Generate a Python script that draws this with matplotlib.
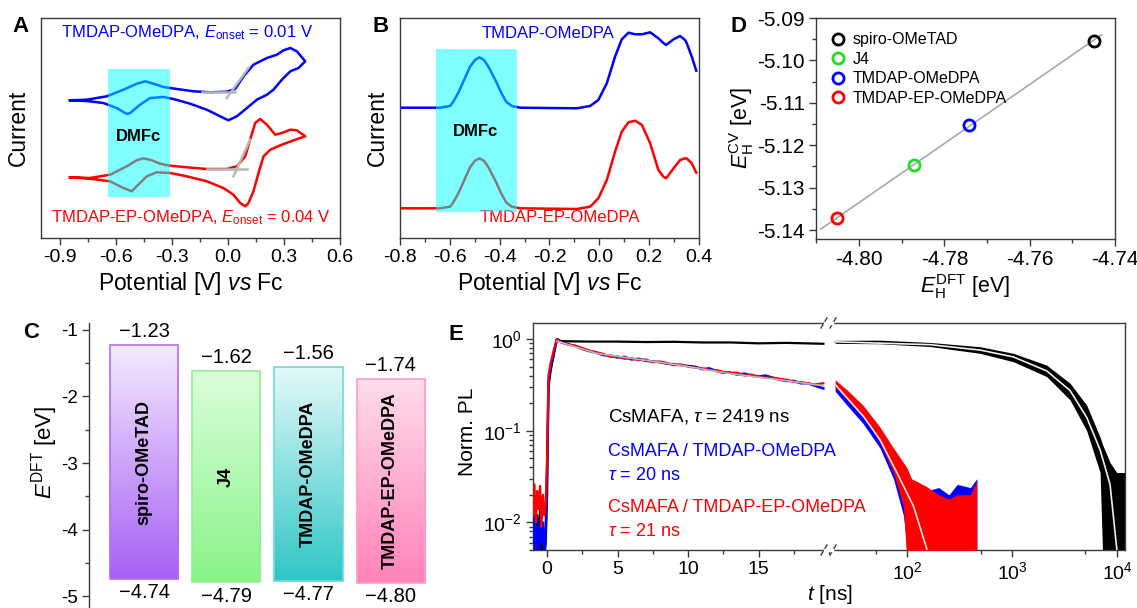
import numpy as np
import matplotlib
matplotlib.use("Agg")
import matplotlib.pyplot as plt
from matplotlib.patches import Rectangle
from matplotlib.lines import Line2D
from matplotlib.colors import LinearSegmentedColormap
from matplotlib.ticker import AutoMinorLocator, MultipleLocator, FixedLocator, NullFormatter

plt.rcParams['font.family'] = ['Liberation Sans', 'DejaVu Sans']
plt.rcParams['mathtext.fontset'] = 'custom'
plt.rcParams['mathtext.rm'] = 'Liberation Sans'
plt.rcParams['mathtext.it'] = 'Liberation Sans:italic'
plt.rcParams['mathtext.bf'] = 'Liberation Sans:bold'
plt.rcParams['axes.unicode_minus'] = False
plt.rcParams['xtick.direction'] = 'out'
plt.rcParams['ytick.direction'] = 'out'

W, H = 1137, 608

# ---------------- A: cyclic voltammetry (arbitrary current) ----------------
cv_blue_v = [-0.845, -0.755, -0.648, -0.559, -0.487, -0.443, -0.398, -0.345, -0.273, -0.184,
             -0.095, -0.006, 0.039, 0.084, 0.137, 0.209, 0.262, 0.298, 0.334, 0.369, 0.414,
             0.378, 0.334, 0.289, 0.244, 0.209, 0.155, 0.102, 0.048, 0.003, -0.041, -0.113,
             -0.202, -0.291, -0.345, -0.416, -0.470, -0.523, -0.541, -0.595, -0.666, -0.755, -0.845]
cv_blue_i = [137.7, 138.3, 141.7, 148.3, 154.3, 156.7, 154.3, 151.0, 149.0, 146.7,
             145.7, 146.3, 149.0, 161.7, 173.3, 180.0, 183.3, 187.7, 190.0, 186.7, 176.7,
             170.0, 166.7, 158.3, 148.3, 143.3, 138.3, 130.0, 121.7, 117.7, 121.7, 128.3,
             134.3, 139.0, 141.0, 140.0, 133.3, 125.0, 124.0, 130.0, 135.0, 137.0, 137.7]
cv_red_v = [-0.845, -0.738, -0.630, -0.541, -0.488, -0.452, -0.407, -0.363, -0.309, -0.220,
            -0.113, -0.006, 0.048, 0.093, 0.119, 0.146, 0.173, 0.209, 0.253, 0.289, 0.334,
            0.369, 0.414, 0.352, 0.280, 0.227, 0.191, 0.164, 0.137, 0.110, 0.093, 0.066,
            0.030, -0.024, -0.113, -0.220, -0.309, -0.381, -0.434, -0.488, -0.514, -0.559,
            -0.630, -0.738, -0.845]
cv_red_i = [60.7, 60.0, 63.3, 71.7, 77.7, 79.7, 77.7, 74.3, 72.3, 70.7,
            69.0, 69.0, 71.7, 81.7, 98.3, 115.0, 119.0, 113.3, 103.3, 105.0, 108.3,
            107.7, 101.7, 97.7, 92.7, 88.3, 81.7, 65.0, 46.7, 35.0, 31.7, 35.0,
            43.3, 50.0, 56.7, 61.7, 65.0, 65.7, 61.7, 51.7, 46.7, 50.0,
            56.7, 59.3, 60.7]
onset_blue_base = ([-0.14, 0.039], [145.7, 145.7])
onset_blue_tan = ([-0.006, 0.11], [140.0, 170.0])
onset_red_base = ([-0.113, 0.101], [69.0, 69.0])
onset_red_tan = ([0.030, 0.119], [61.7, 98.3])
dmfc_cv = (-0.639, -0.309, 40.7, 169.0)

# ---------------- B: differential pulse voltammetry ----------------
dpv_v = [-0.80, -0.639, -0.599, -0.586, -0.566, -0.546, -0.519, -0.499, -0.481, -0.463,
         -0.445, -0.414, -0.394, -0.374, -0.351, -0.318, -0.090, -0.037, -0.004, 0.030,
         0.063, 0.090, 0.117, 0.144, 0.171, 0.204, 0.237, 0.257, 0.268, 0.298, 0.324,
         0.344, 0.351, 0.371, 0.389]
dpv_blue = [130.3, 130.3, 132.0, 136.3, 145.3, 156.3, 171.3, 178.0, 180.7, 178.0,
            171.3, 156.3, 145.3, 136.3, 132.0, 130.3, 129.7, 132.0, 138.0, 154.7,
            181.3, 198.7, 205.3, 203.7, 203.7, 205.7, 199.7, 195.0, 193.0, 198.7, 202.0,
            198.0, 194.7, 181.3, 167.3]
dpv_red = [29.7, 29.7, 31.3, 35.7, 44.7, 55.7, 70.7, 77.3, 79.7, 77.3,
           70.7, 55.7, 44.7, 35.7, 31.3, 29.7, 29.0, 31.3, 39.7, 58.0,
           86.3, 106.3, 115.7, 117.3, 113.0, 94.7, 68.0, 61.3, 59.7, 69.7, 78.0,
           79.7, 79.5, 74.7, 65.3]
dmfc_dpv = (-0.657, -0.331, 26.3, 188.7)

# ---------------- C: DFT frontier orbital energies ----------------
htm_names = ['spiro-OMeTAD', 'J4', 'TMDAP-OMeDPA', 'TMDAP-EP-OMeDPA']
lumo = [-1.23, -1.62, -1.56, -1.74]
homo = [-4.74, -4.79, -4.77, -4.80]
lumo_txt = ['\u22121.23', '\u22121.62', '\u22121.56', '\u22121.74']
homo_txt = ['\u22124.74', '\u22124.79', '\u22124.77', '\u22124.80']
bar_dark = ['#a65ff5', '#88f488', '#2ec6c6', '#ff82bb']
bar_light = ['#f4eafd', '#dbfddb', '#e4f8f8', '#ffdcea']
bar_edge = ['#b070f0', '#94ee94', '#70dada', '#ff9cc8']

# ---------------- D: E_H(CV) vs E_H(DFT) ----------------
d_names = ['spiro-OMeTAD', 'J4', 'TMDAP-OMeDPA', 'TMDAP-EP-OMeDPA']
d_dft = [-4.745, -4.7872, -4.7743, -4.8051]
d_cv = [-5.0954, -5.1247, -5.1152, -5.1372]
d_colors = ['black', '#22dd22', '#0000ff', '#ff0000']

# ---------------- E: TRPL ----------------
# early linear part (ns)
t_pre = [-1.0, -0.9, -0.8, -0.7, -0.6, -0.5, -0.4, -0.3, -0.2, -0.1, 0.0, 0.1, 0.25, 0.5, 0.7]
pre_black = [0.005, 0.010, 0.004, 0.012, 0.006, 0.014, 0.004, 0.009, 0.004, 0.006, 0.02, 0.30, 0.45, 0.70, 1.0]
pre_blue = [0.006, 0.012, 0.005, 0.009, 0.004, 0.011, 0.006, 0.010, 0.004, 0.008, 0.04, 0.35, 0.50, 0.75, 1.0]
pre_red = [0.012, 0.026, 0.010, 0.022, 0.014, 0.025, 0.009, 0.020, 0.012, 0.016, 0.05, 0.40, 0.55, 0.78, 1.0]

t_lin = [1.0, 1.5, 2.0, 2.5, 3.0, 3.5, 4.0, 4.5, 5.0, 5.5, 6.0, 6.5, 7.0, 7.5, 8.0, 8.5, 9.0, 9.5,
         10.0, 10.5, 11.0, 11.5, 12.0, 12.5, 13.0, 13.5, 14.0, 14.5, 15.0, 15.5, 16.0, 16.5, 17.0,
         17.5, 18.0, 18.5, 19.0, 19.6]
lin_blue = [0.93, 0.88, 0.84, 0.78, 0.74, 0.71, 0.67, 0.66, 0.63, 0.64, 0.60, 0.61, 0.58, 0.57, 0.56,
            0.54, 0.53, 0.52, 0.51, 0.50, 0.47, 0.48, 0.45, 0.43, 0.43, 0.41, 0.42, 0.40, 0.39, 0.40,
            0.38, 0.36, 0.35, 0.35, 0.33, 0.33, 0.31, 0.29]
lin_red = [0.92, 0.87, 0.85, 0.80, 0.75, 0.72, 0.69, 0.64, 0.65, 0.61, 0.62, 0.59, 0.60, 0.56, 0.57,
           0.55, 0.52, 0.53, 0.50, 0.49, 0.48, 0.46, 0.46, 0.44, 0.43, 0.43, 0.40, 0.41, 0.39, 0.38,
           0.38, 0.37, 0.36, 0.34, 0.34, 0.33, 0.32, 0.33]
t_black_lin = [1.0, 3.0, 5.0, 7.0, 9.0, 11.0, 13.0, 15.0, 17.0, 19.6]
lin_black = [0.95, 0.94, 0.94, 0.93, 0.935, 0.92, 0.92, 0.90, 0.91, 0.89]
t_fit_lin = [0.7, 3.5, 9.4, 13.0, 16.5, 19.6]
fit_lin = [0.95, 0.70, 0.52, 0.42, 0.36, 0.31]

# late log part (ns)
t_blk = [20.6, 55, 166, 496, 1028, 2137, 3565, 5140, 6890, 7300, 8570, 9930, 11900]
blk_mid = [0.935, 0.93, 0.86, 0.76, 0.64, 0.46, 0.279, 0.143, 0.062, 0.05, 0.025, 0.0078, 0.006]
blk_hi = [0.97, 0.975, 0.92, 0.826, 0.70, 0.52, 0.33, 0.190, 0.085, 0.07, 0.045, 0.035, 0.035]
blk_lo = [0.90, 0.89, 0.83, 0.70, 0.567, 0.39, 0.217, 0.100, 0.035, 0.004, 0.004, 0.004, 0.004]
t_rb = [20.6, 26.7, 38, 55, 74, 92, 99, 110, 150, 200, 250, 300, 400, 461]
blue_hi = [0.32, 0.235, 0.15, 0.085, 0.048, 0.032, 0.028, 0.025, 0.022, 0.024, 0.020, 0.026, 0.024, 0.030]
blue_lo = [0.27, 0.19, 0.12, 0.065, 0.030, 0.012, 0.006, 0.004, 0.004, 0.004, 0.004, 0.004, 0.004, 0.004]
red_hi = [0.36, 0.28, 0.19, 0.11, 0.065, 0.045, 0.040, 0.030, 0.025, 0.020, 0.018, 0.020, 0.020, 0.029]
red_lo = [0.30, 0.22, 0.145, 0.075, 0.035, 0.015, 0.004, 0.004, 0.004, 0.004, 0.004, 0.004, 0.004, 0.004]
t_fit_rb = [20.6, 38.4, 55, 79.8, 115, 154]
fit_rb = [0.32, 0.143, 0.080, 0.035, 0.015, 0.0051]
t_fit_blk = [20.6, 166, 496, 1028, 2137, 3565, 5140, 6890, 8570, 10000]
fit_blk = [0.935, 0.87, 0.76, 0.64, 0.45, 0.275, 0.14, 0.062, 0.026, 0.0048]


def fx(x):
    return x / W


def fy(y):
    return 1 - y / H


def rect(x0, y0, x1, y1):
    return [x0 / W, 1 - y1 / H, (x1 - x0) / W, (y1 - y0) / H]


def style_box(ax):
    for s in ax.spines.values():
        s.set_color('#3a3a3a')
        s.set_linewidth(1.0)
    ax.tick_params(which='major', length=5, width=1, color='#3a3a3a', labelsize=14, pad=3)
    ax.tick_params(which='minor', length=3, width=1, color='#3a3a3a')


fig = plt.figure(figsize=(W / 100, H / 100), dpi=100)

# ---- A ----
axA = fig.add_axes(rect(41, 18, 340, 238))
axA.plot(cv_blue_v, cv_blue_i, color='#0000ff', lw=1.8, zorder=2)
axA.plot(cv_red_v, cv_red_i, color='#ff0000', lw=1.8, zorder=2)
for xs, ys in [onset_blue_base, onset_blue_tan, onset_red_base, onset_red_tan]:
    axA.plot(xs, ys, color='#b8b8b8', lw=1.8, zorder=3)
axA.add_patch(Rectangle((dmfc_cv[0], dmfc_cv[2]), dmfc_cv[1] - dmfc_cv[0], dmfc_cv[3] - dmfc_cv[2],
                        facecolor='#00ffff', alpha=0.5, edgecolor='none', zorder=4))
axA.text(-0.479, 101.7, 'DMFc', fontsize=12, fontweight='bold', ha='center', va='center', zorder=5)
axA.text(-0.22, 205, r'TMDAP-OMeDPA, $E_{\rm onset}$ = 0.01 V', color='#0000ff', fontsize=12,
         ha='center', va='center')
axA.text(-0.20, 20, r'TMDAP-EP-OMeDPA, $E_{\rm onset}$ = 0.04 V', color='#ff0000', fontsize=12,
         ha='center', va='center')
axA.set_xlim(-1.0, 0.6)
axA.set_ylim(0, 220)
axA.set_xticks([-0.9, -0.6, -0.3, 0.0, 0.3, 0.6])
axA.set_xticklabels(['-0.9', '-0.6', '-0.3', '0.0', '0.3', '0.6'])
axA.xaxis.set_minor_locator(AutoMinorLocator(2))
axA.set_yticks([])
style_box(axA)
axA.set_xlabel(r'Potential [V] $vs$ Fc', fontsize=16.5, labelpad=3)
axA.set_ylabel('Current', fontsize=16.5, labelpad=8)

# ---- B ----
axB = fig.add_axes(rect(400, 18, 699, 238))
axB.plot(dpv_v, dpv_blue, color='#0000ff', lw=1.8, zorder=2)
axB.plot(dpv_v, dpv_red, color='#ff0000', lw=1.8, zorder=2)
axB.add_patch(Rectangle((dmfc_dpv[0], dmfc_dpv[2]), dmfc_dpv[1] - dmfc_dpv[0], dmfc_dpv[3] - dmfc_dpv[2],
                        facecolor='#00ffff', alpha=0.5, edgecolor='none', zorder=4))
axB.text(-0.495, 106.3, 'DMFc', fontsize=12, fontweight='bold', ha='center', va='center', zorder=5)
axB.text(-0.207, 204.7, 'TMDAP-OMeDPA', color='#0000ff', fontsize=12, ha='center', va='center')
axB.text(-0.157, 20, 'TMDAP-EP-OMeDPA', color='#ff0000', fontsize=12, ha='center', va='center')
axB.set_xlim(-0.8, 0.4)
axB.set_ylim(0, 220)
axB.set_xticks([-0.8, -0.6, -0.4, -0.2, 0.0, 0.2, 0.4])
axB.set_xticklabels(['-0.8', '-0.6', '-0.4', '-0.2', '0.0', '0.2', '0.4'])
axB.xaxis.set_minor_locator(AutoMinorLocator(2))
axB.set_yticks([])
style_box(axB)
axB.set_xlabel(r'Potential [V] $vs$ Fc', fontsize=16.5, labelpad=3)
axB.set_ylabel('Current', fontsize=16.5, labelpad=8)

# ---- C ----
axC = fig.add_axes(rect(89, 323, 440, 608))
grad = np.linspace(0, 1, 256).reshape(-1, 1)
bw = 0.83
for i in range(len(htm_names)):
    cmap = LinearSegmentedColormap.from_list('g%d' % i, [bar_dark[i], bar_light[i]])
    axC.imshow(grad, cmap=cmap, aspect='auto', origin='lower',
               extent=(i - bw / 2, i + bw / 2, homo[i], lumo[i]), zorder=1)
    axC.add_patch(Rectangle((i - bw / 2, homo[i]), bw, lumo[i] - homo[i], fill=False,
                            edgecolor=bar_edge[i], lw=1.2, zorder=2))
    axC.text(i, lumo[i] + 0.07, lumo_txt[i], ha='center', va='bottom', fontsize=14.5)
    axC.text(i, homo[i] - 0.07, homo_txt[i], ha='center', va='top', fontsize=14.5)
    axC.text(i, (lumo[i] + homo[i]) / 2, htm_names[i], rotation=90, ha='center', va='center',
             fontsize=13, fontweight='bold', zorder=3)
axC.set_xlim(-0.67, 3.6)
axC.set_ylim(-5.18, -0.895)
axC.set_yticks([-1, -2, -3, -4, -5])
axC.set_yticklabels(['-1', '-2', '-3', '-4', '-5'])
axC.yaxis.set_minor_locator(MultipleLocator(0.5))
axC.set_xticks([])
for s in ['top', 'right', 'bottom']:
    axC.spines[s].set_visible(False)
style_box(axC)
axC.tick_params(labelsize=13.5)
fig.text(fx(45), fy(452), r'$E^{\rm DFT}$ [eV]', rotation=90, fontsize=16, ha='center', va='center')

# ---- D ----
axD = fig.add_axes(rect(816, 18, 1115, 239))
k, b = np.polyfit(d_dft, d_cv, 1)
xf = np.array([-4.809, -4.7432])
axD.plot(xf, k * xf + b, color='#a8a8a8', lw=1.2, zorder=1)
for xv, yv, c, n in zip(d_dft, d_cv, d_colors, d_names):
    axD.plot([xv], [yv], 'o', mfc='none', mec=c, mew=2, ms=8, label=n, zorder=3)
axD.set_xlim(-4.8101, -4.74)
axD.set_ylim(-5.1421, -5.09)
axD.set_xticks([-4.80, -4.78, -4.76, -4.74])
axD.set_xticklabels(['-4.80', '-4.78', '-4.76', '-4.74'])
axD.set_yticks([-5.09, -5.10, -5.11, -5.12, -5.13, -5.14])
axD.set_yticklabels(['-5.09', '-5.10', '-5.11', '-5.12', '-5.13', '-5.14'])
axD.xaxis.set_minor_locator(AutoMinorLocator(2))
axD.yaxis.set_minor_locator(AutoMinorLocator(2))
style_box(axD)
axD.tick_params(labelsize=15)
axD.legend(loc='upper left', frameon=False, fontsize=11.5, handletextpad=0.4, labelspacing=0.28,
           borderaxespad=0.6, handlelength=1.0, borderpad=0.3)
axD.set_xlabel(r'$E_{\rm H}^{\rm DFT}$ [eV]', fontsize=15.5, labelpad=2)
axD.set_ylabel(r'$E_{\rm H}^{\rm CV}$ [eV]', fontsize=15.5, labelpad=1)

# ---- E ----
axL = fig.add_axes(rect(533, 323, 829, 550))
axR = fig.add_axes(rect(829, 323, 1125, 550))
axL.plot(t_pre + t_black_lin, pre_black + lin_black, color='black', lw=1.6, zorder=2)
axL.plot(t_pre + t_lin, pre_blue + lin_blue, color='#0000ff', lw=1.8, zorder=3)
axL.plot(t_pre + t_lin, pre_red + lin_red, color='#ff0000', lw=1.6, zorder=4)
axL.plot(t_fit_lin, fit_lin, color='#b8b8b8', lw=1.2, zorder=5)
axL.set_yscale('log')
axL.set_xlim(-1, 20)
axL.set_ylim(0.005, 1.5)
axL.set_xticks([0, 5, 10, 15])
axL.xaxis.set_minor_locator(MultipleLocator(2.5))
axL.spines['right'].set_visible(False)
style_box(axL)

axR.fill_between(t_blk, blk_lo, blk_hi, color='black', lw=0, zorder=1)
axR.plot(t_blk, blk_mid, color='black', lw=1.2, zorder=1)
axR.fill_between(t_rb, blue_lo, blue_hi, color='#0000ff', lw=0, zorder=2)
axR.fill_between(t_rb, red_lo, red_hi, color='#ff0000', lw=0, zorder=3)
axR.plot(t_fit_blk, fit_blk, color='#eeeeee', lw=1.2, zorder=5)
axR.plot(t_fit_rb, fit_rb, color='#f2dede', lw=1.2, zorder=5)
axR.set_xscale('log')
axR.set_yscale('log')
axR.set_xlim(18, 11900)
axR.set_ylim(0.005, 1.5)
axR.xaxis.set_major_locator(FixedLocator([100, 1000, 10000]))
axR.xaxis.set_minor_locator(FixedLocator([50, 500, 5000]))
axR.xaxis.set_minor_formatter(NullFormatter())
axR.spines['left'].set_visible(False)
style_box(axR)
axR.tick_params(axis='y', which='both', left=False, labelleft=False)

# axis break marks
for xb in (824, 833):
    for yb in (323, 550):
        fig.add_artist(Line2D([fx(xb - 3), fx(xb + 3)], [fy(yb + 5), fy(yb - 5)],
                              color='#3a3a3a', lw=1.0))
for yb in (323, 550):
    fig.add_artist(Line2D([fx(825), fx(832)], [fy(yb), fy(yb)], color='white', lw=2.5))

fig.text(fx(608), fy(417), r'CsMAFA, $\tau$ = 2419 ns', fontsize=13.5, color='black', va='center')
fig.text(fx(608), fy(452), 'CsMAFA / TMDAP-OMeDPA', fontsize=13, color='#0000ff', va='center')
fig.text(fx(608), fy(476), r'$\tau$ = 20 ns', fontsize=13, color='#0000ff', va='center')
fig.text(fx(608), fy(508), 'CsMAFA / TMDAP-EP-OMeDPA', fontsize=13, color='#ff0000', va='center')
fig.text(fx(608), fy(531), r'$\tau$ = 21 ns', fontsize=13, color='#ff0000', va='center')
fig.text(fx(468), fy(432), 'Norm. PL', rotation=90, fontsize=15, ha='center', va='center')
fig.text(fx(830), fy(594), r'$t$ [ns]', fontsize=15, ha='center', va='center')

# panel letters
for lab, x, y in [('A', 20, 26), ('B', 381, 26), ('D', 739, 26), ('C', 31, 333), ('E', 456, 334)]:
    fig.text(fx(x), fy(y), lab, fontsize=16, fontweight='bold', ha='center', va='center')

fig.savefig('out.png', dpi=100)
